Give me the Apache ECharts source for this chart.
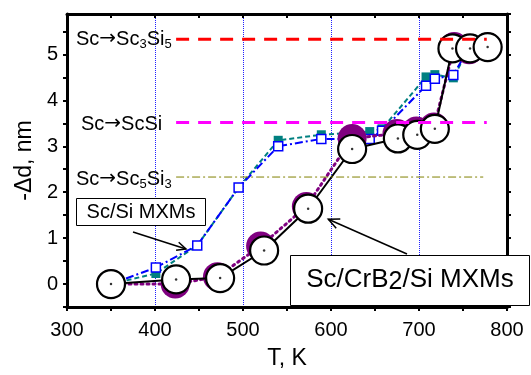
<!DOCTYPE html>
<html>
<head>
<meta charset="utf-8">
<script src="https://cdn.jsdelivr.net/npm/echarts@6/dist/echarts.min.js"></script>
<style>
html,body{margin:0;padding:0;background:#fff;}
#chart{width:531px;height:375px;}
</style>
</head>
<body>
<div id="chart"></div>
<script>
// Sc/CrB2/Si MXMs - two runs (white circles / purple circles)
var crT = [350, 424, 474, 524, 574, 624, 676, 698, 718, 738, 758, 778];
var crD = [0, 0.1, 0.13, 0.73, 1.64, 2.94, 3.17, 3.25, 3.38, 5.13, 5.13, 5.16];
var purT = [350, 423, 471, 520, 572, 624, 675, 697, 717, 740, 757, 778];
var purD = [0, 0, 0.16, 0.83, 1.69, 3.17, 3.28, 3.33, 3.42, 5.17, 5.1, 5.16];
// Sc/Si MXMs - blue open squares / teal filled squares
var siT = [350, 401, 448, 495, 540, 589, 644, 658, 708, 718, 739, 757];
var blueD = [0, 0.36, 0.84, 2.1, 3.0, 3.16, 3.16, 3.34, 4.32, 4.47, 4.55, 5.15];
var tealD = [0, 0.23, 0.84, 2.1, 3.13, 3.25, 3.32, 3.38, 4.51, 4.56, 4.49, 5.15];
// reaction levels
var refLevel = [5.33, 3.52, 2.33];
var refFrom = [424, 424, 424];
var refTo = [777, 777, 773];

var FONT = 'Liberation Sans, Arial, sans-serif';

function pairs(xs, ys){
	var out = [];
	for (var i = 0; i < xs.length; i++) out.push([xs[i], ys[i]]);
	return out;
}
function refLine(i, color, width, dash, z){
	return {
		type:'line', z:z, symbol:'none', silent:true,
		data:[[refFrom[i], refLevel[i]], [refTo[i], refLevel[i]]],
		lineStyle:{color:color, width:width, type:dash}
	};
}
function isInt(v){ return Math.abs(v - Math.round(v)) < 1e-6; }

// rich styles for the reaction labels
var reacRich = {
	n:{fontSize:20, fontFamily:FONT, fill:'#000', lineHeight:22, verticalAlign:'top'},
	a:{fontSize:20, fontFamily:'DejaVu Sans', fill:'#000', lineHeight:22, verticalAlign:'top'},
	s:{fontSize:13, fontFamily:FONT, fill:'#000', lineHeight:14, verticalAlign:'bottom'}
};
var frame = {onZero:false, lineStyle:{color:'#000', width:3}};

var myChart = echarts.init(document.getElementById('chart'));
var option = {
	animation:false,
	backgroundColor:'#fff',
	textStyle:{fontFamily:FONT},
	grid:{left:67, right:24, top:14, bottom:62},
	xAxis:[{
		type:'value', position:'bottom', min:300, max:800, interval:100,
		name:'T, K', nameLocation:'middle', nameGap:40,
		nameTextStyle:{fontSize:23, color:'#000', fontFamily:FONT},
		axisLine:frame,
		axisTick:{show:true, inside:false, length:4, lineStyle:{color:'#000', width:2}},
		minorTick:{show:true, splitNumber:2, length:4, lineStyle:{color:'#000', width:2}},
		axisLabel:{fontSize:20, color:'#000', margin:13, fontFamily:FONT},
		splitLine:{show:true, lineStyle:{color:'#2020ff', width:1, type:'dotted'}}
	},{
		type:'value', position:'top', min:300, max:800, interval:100,
		axisLine:frame,
		axisTick:{show:true, inside:true, length:4, lineStyle:{color:'#000', width:2}},
		minorTick:{show:true, splitNumber:2, length:4, lineStyle:{color:'#000', width:2}},
		axisLabel:{show:false},
		splitLine:{show:false}
	}],
	yAxis:[{
		type:'value', position:'left', min:-0.5, max:5.88, interval:0.5,
		name:'-\u0394d, nm', nameLocation:'middle', nameGap:30, nameRotate:90,
		nameTextStyle:{fontSize:23, color:'#000', fontFamily:FONT},
		axisLine:frame,
		axisTick:{show:true, inside:false, length:4, lineStyle:{color:'#000', width:2}},
		axisLabel:{fontSize:20, color:'#000', margin:9, fontFamily:FONT,
			showMaxLabel:false,
			formatter:function(v){ return isInt(v) ? String(Math.round(v)) : ''; }},
		splitLine:{show:false}
	},{
		type:'value', position:'right', min:-0.5, max:5.88, interval:0.5,
		axisLine:frame,
		axisTick:{show:true, inside:false, length:4, lineStyle:{color:'#000', width:2}},
		axisLabel:{show:false},
		splitLine:{show:false}
	}],
	series:[
		{
			name:'Sc/Si teal', type:'line', z:2, data:pairs(siT, tealD),
			symbol:'rect', symbolSize:9,
			itemStyle:{color:'#008080', borderColor:'#008080', borderWidth:0},
			lineStyle:{color:'#008080', width:2, type:[5, 3]}
		},
		{
			name:'Sc/Si blue', type:'line', z:3, data:pairs(siT, blueD),
			symbol:'rect', symbolSize:9,
			itemStyle:{color:'#fff', borderColor:'#0000ff', borderWidth:1.5},
			lineStyle:{color:'#0000ff', width:2, type:[8, 3, 2, 3]}
		},
		{
			name:'Sc/CrB2/Si purple', type:'line', z:4, data:pairs(purT, purD),
			symbol:'circle', symbolSize:29,
			itemStyle:{color:'#800080', borderColor:'#800080', borderWidth:0},
			lineStyle:{color:'#800080', width:3, type:[2, 4], cap:'round'}
		},
		{
			name:'Sc/CrB2/Si', type:'line', z:5, data:pairs(crT, crD),
			symbol:'circle', symbolSize:28,
			itemStyle:{color:'#fff', borderColor:'#000', borderWidth:2.2},
			lineStyle:{color:'#000', width:2}
		},
		{
			name:'centres', type:'scatter', z:6, data:pairs(crT, crD),
			symbol:'circle', symbolSize:2.5, silent:true,
			itemStyle:{color:'#000'}
		},
		refLine(0, '#ff0000', 3, [13, 9], 7),
		refLine(1, '#ff00ff', 3, [13, 9], 7),
		refLine(2, '#808000', 1, [8, 3, 2, 3], 7)
	],
	graphic:[
		// reaction labels
		{type:'text', left:76, top:29, z:10, style:{
			text:'{n|Sc}{a|\u2192}{n|Sc}{s|3}{n|Si}{s|5}', rich:reacRich, lineHeight:30}},
		{type:'text', left:81, top:114, z:10, style:{
			text:'{n|Sc}{a|\u2192}{n|ScSi}', rich:reacRich, lineHeight:22}},
		{type:'text', left:76, top:169, z:10, style:{
			text:'{n|Sc}{a|\u2192}{n|Sc}{s|5}{n|Si}{s|3}', rich:reacRich, lineHeight:30}},
		// Sc/Si box + arrow
		{type:'rect', z:10, shape:{x:76.5, y:198.5, width:129, height:27},
			style:{fill:'#fff', stroke:'#000', lineWidth:1}},
		{type:'text', z:11, x:141, y:212, style:{
			text:'Sc/Si MXMs', fontSize:20, fontFamily:FONT, fill:'#000',
			align:'center', verticalAlign:'middle'}},
		{type:'line', z:10, shape:{x1:133, y1:232, x2:186, y2:249},
			style:{stroke:'#000', lineWidth:1.5}},
		{type:'polyline', z:10, shape:{points:[[178.7,242.2],[186,249],[176.1,250.3]]},
			style:{stroke:'#000', lineWidth:1.5, fill:null}},
		// Sc/CrB2/Si box + arrow
		{type:'rect', z:10, shape:{x:290.5, y:255.5, width:239, height:50},
			style:{fill:'#fff', stroke:'#000', lineWidth:1}},
		{type:'text', z:11, x:410, y:281, style:{
			text:'{n|Sc/CrB}{s|2}{n|/Si MXMs}',
			rich:{
				n:{fontSize:26, fontFamily:FONT, fill:'#000', lineHeight:28, verticalAlign:'top'},
				s:{fontSize:25, fontFamily:FONT, fill:'#000', lineHeight:28, verticalAlign:'bottom'}
			}, lineHeight:37, align:'center', verticalAlign:'middle'}},
		{type:'line', z:10, shape:{x1:407, y1:254, x2:328.3, y2:219.3},
			style:{stroke:'#000', lineWidth:1.5}},
		{type:'polyline', z:10, shape:{points:[[336.2,228.3],[328.3,219.3],[340.3,219]]},
			style:{stroke:'#000', lineWidth:1.5, fill:null}}
	]
};
myChart.setOption(option);
</script>
</body>
</html>
